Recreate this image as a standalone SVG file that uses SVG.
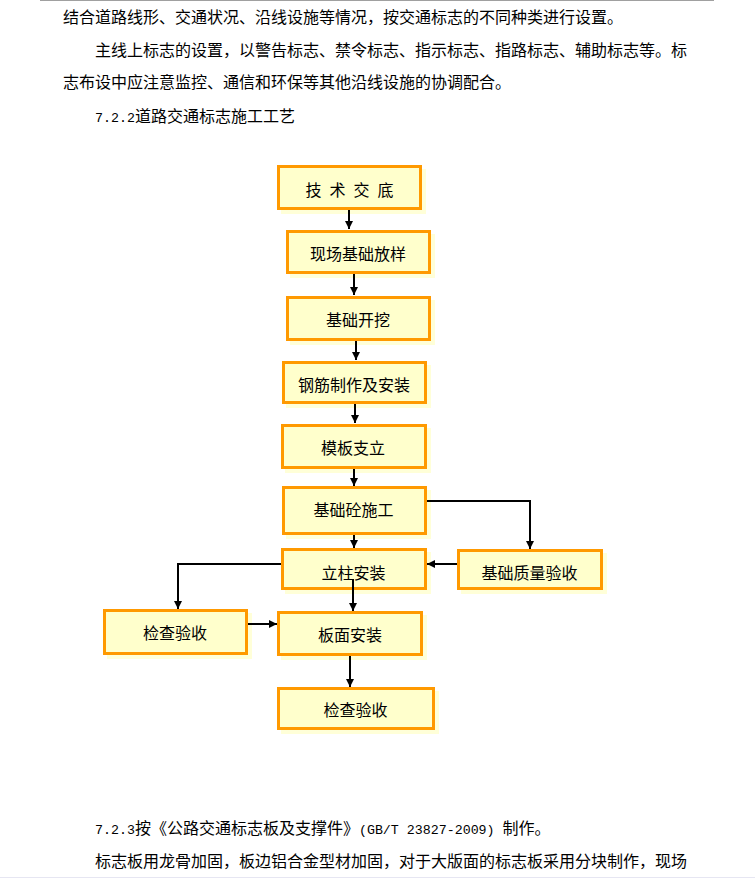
<svg xmlns="http://www.w3.org/2000/svg" width="755" height="878" viewBox="0 0 755 878">
<defs>
<style>
.body{font-family:"Noto Sans CJK SC","Liberation Sans",sans-serif;font-size:16px;fill:#000}
.mono{font-family:"Liberation Mono","Noto Sans CJK SC",monospace;font-size:13.3px;fill:#000}
.box{fill:#FFFFCC;stroke:#FF9900;stroke-width:3}
.shadow{fill:#FFFFD8}
.lbl{font-family:"Noto Sans CJK SC","Liberation Sans",sans-serif;font-size:16px;fill:#000;text-anchor:middle}
.con{fill:none;stroke:#000;stroke-width:2}
</style>
<marker id="ah" viewBox="0 0 10 10" refX="10" refY="5" markerWidth="8" markerHeight="8" markerUnits="userSpaceOnUse" orient="auto">
<path d="M0,0 L10,5 L0,10 z" fill="#000"/>
</marker>
</defs>
<rect width="755" height="878" fill="#fff"/>
<line x1="40" y1="0.5" x2="714" y2="0.5" stroke="#a0a0a0" stroke-width="1"/>
<line x1="0" y1="877.5" x2="755" y2="877.5" stroke="#e6e6f2" stroke-width="1"/>

<g id="text">
<text class="body" x="63" y="23">结合道路线形、交通状况、沿线设施等情况，按交通标志的不同种类进行设置。</text>
<text class="body" x="95" y="56" textLength="592" lengthAdjust="spacing">主线上标志的设置，以警告标志、禁令标志、指示标志、指路标志、辅助标志等。标</text>
<text class="body" x="63" y="88">志布设中应注意监控、通信和环保等其他沿线设施的协调配合。</text>
<text class="body" x="95" y="122"><tspan class="mono">7.2.2</tspan>道路交通标志施工工艺</text>
<text class="body" x="95" y="834"><tspan class="mono">7.2.3</tspan>按《公路交通标志板及支撑件》<tspan class="mono">(GB/T 23827-2009) </tspan>制作。</text>
<text class="body" x="95" y="867">标志板用龙骨加固，板边铝合金型材加固，对于大版面的标志板采用分块制作，现场</text>
</g>

<g id="n1"><rect class="shadow" x="281" y="169" width="145" height="45"/><rect class="box" x="278.5" y="166.5" width="142" height="42"/><text class="lbl" x="349.5" y="196" textLength="88" lengthAdjust="spacing">技 术 交 底</text></g>
<g id="n2"><rect class="shadow" x="290" y="234" width="145" height="44"/><rect class="box" x="287.5" y="231.5" width="142" height="41"/><text class="lbl" x="358" y="260">现场基础放样</text></g>
<g id="n3"><rect class="shadow" x="290" y="300" width="145" height="45"/><rect class="box" x="287.5" y="297.5" width="142" height="42"/><text class="lbl" x="358" y="326">基础开挖</text></g>
<g id="n4"><rect class="shadow" x="286" y="365" width="145" height="43"/><rect class="box" x="283.5" y="362.5" width="142" height="40"/><text class="lbl" x="354" y="391">钢筋制作及安装</text></g>
<g id="n5"><rect class="shadow" x="285" y="428" width="146" height="45"/><rect class="box" x="282.5" y="425.5" width="143" height="42"/><text class="lbl" x="353" y="454">模板支立</text></g>
<g id="n6"><rect class="shadow" x="286" y="490" width="145" height="49"/><rect class="box" x="283.5" y="487.5" width="142" height="46"/><text class="lbl" x="353.5" y="516">基础砼施工</text></g>
<g id="n7"><rect class="shadow" x="285" y="552" width="146" height="42"/><rect class="box" x="282.5" y="549.5" width="143" height="39"/><text class="lbl" x="353.5" y="579">立柱安装</text></g>
<g id="n8"><rect class="shadow" x="461" y="553" width="146" height="41"/><rect class="box" x="458.5" y="550.5" width="143" height="38"/><text class="lbl" x="529.5" y="579">基础质量验收</text></g>
<g id="n9"><rect class="shadow" x="107" y="613" width="145" height="46"/><rect class="box" x="104.5" y="610.5" width="142" height="43"/><text class="lbl" x="175" y="639">检查验收</text></g>
<g id="n10"><rect class="shadow" x="281" y="615" width="146" height="45"/><rect class="box" x="278.5" y="612.5" width="143" height="42"/><text class="lbl" x="350" y="641">板面安装</text></g>
<g id="n11"><rect class="shadow" x="281" y="691" width="158" height="43"/><rect class="box" x="278.5" y="688.5" width="155" height="40"/><text class="lbl" x="355.5" y="716">检查验收</text></g>

<g id="connectors">
<path class="con" d="M349,210 V229" marker-end="url(#ah)"/>
<path class="con" d="M354,274 V295" marker-end="url(#ah)"/>
<path class="con" d="M356,341 V360" marker-end="url(#ah)"/>
<path class="con" d="M355,404 V423" marker-end="url(#ah)"/>
<path class="con" d="M354,469 V486" marker-end="url(#ah)"/>
<path class="con" d="M354,535 V548" marker-end="url(#ah)"/>
<path class="con" d="M427,501 H530 V549" marker-end="url(#ah)"/>
<path class="con" d="M457,564 H427" marker-end="url(#ah)"/>
<path class="con" d="M281,564 H178 V609" marker-end="url(#ah)"/>
<path class="con" d="M248,624 H277" marker-end="url(#ah)"/>
<path class="con" d="M353,579 V611" marker-end="url(#ah)"/>
<path class="con" d="M350,656 V687" marker-end="url(#ah)"/>
</g>
</svg>
